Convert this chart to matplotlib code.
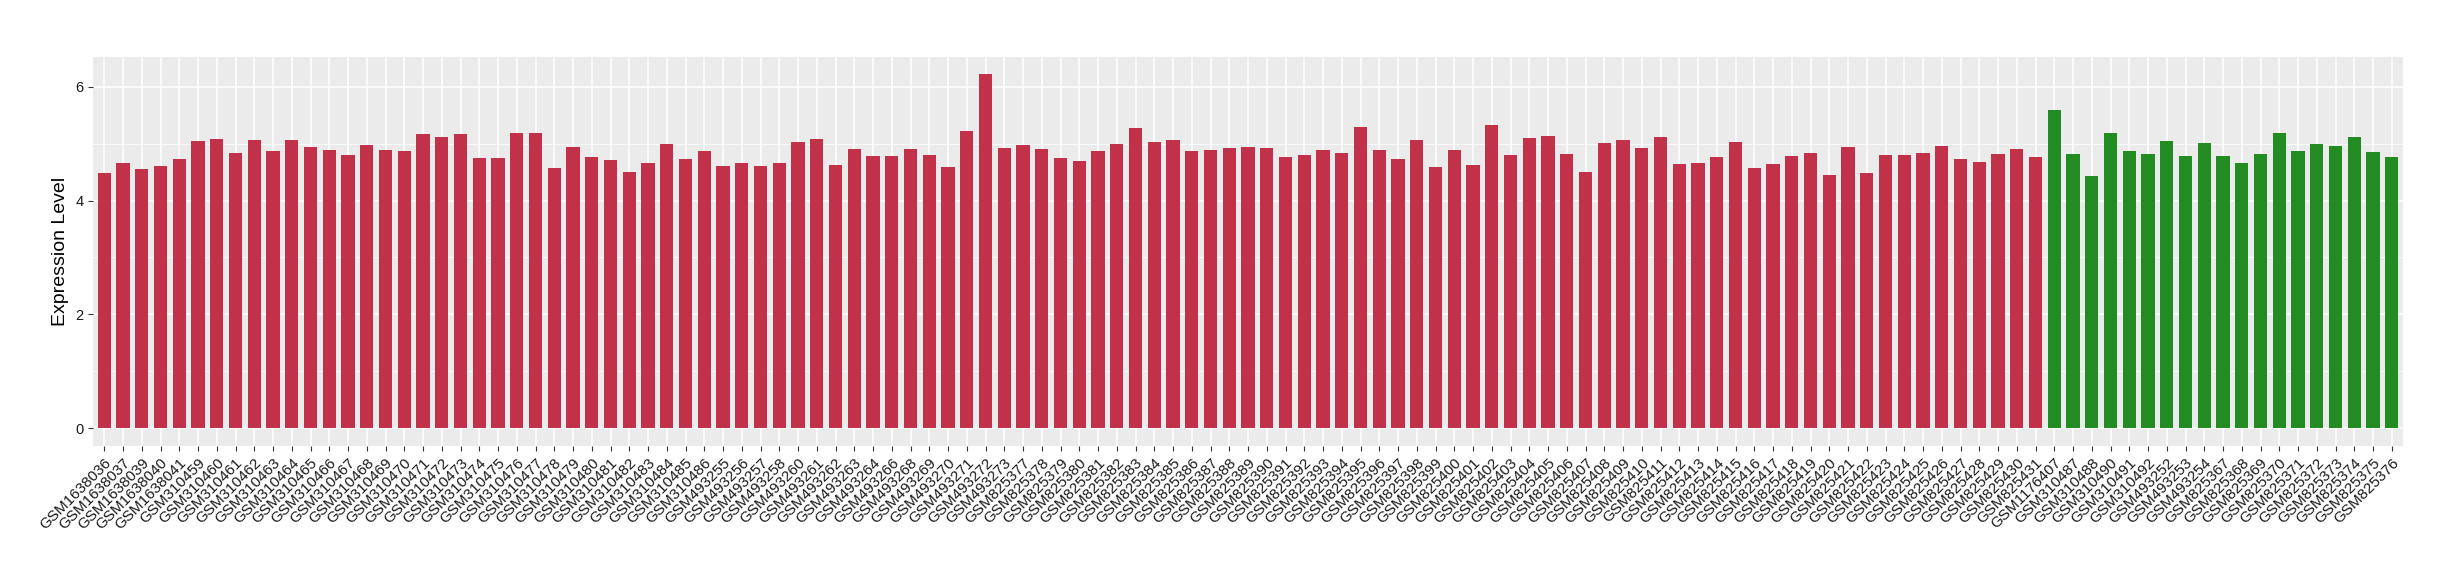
import numpy as np
import matplotlib
matplotlib.use("Agg")
from matplotlib import pyplot as plt
from matplotlib.ticker import MultipleLocator

plt.rcParams['font.family'] = ['Liberation Sans', 'DejaVu Sans']

# sample ids, first group (red)
group_a = (["GSM1638036", "GSM1638037", "GSM1638039", "GSM1638040", "GSM1638041"]
           + ["GSM3104%02d" % i for i in range(59, 87)]
           + ["GSM493255", "GSM493256", "GSM493257", "GSM493258", "GSM493260",
              "GSM493261", "GSM493262", "GSM493263", "GSM493264", "GSM493266",
              "GSM493268", "GSM493269", "GSM493270", "GSM493271", "GSM493272",
              "GSM493273"]
           + ["GSM825%03d" % i for i in range(377, 432)])

# second group (green)
group_b = ["GSM1176407", "GSM310487", "GSM310488", "GSM310490", "GSM310491",
           "GSM310492", "GSM493252", "GSM493253", "GSM493254", "GSM825367",
           "GSM825368", "GSM825369", "GSM825370", "GSM825371", "GSM825372",
           "GSM825373", "GSM825374", "GSM825375", "GSM825376"]

values_a = [4.48, 4.66, 4.55, 4.61, 4.73, 5.05, 5.08, 4.83, 5.06, 4.87,
            5.06, 4.94, 4.89, 4.80, 4.98, 4.89, 4.87, 5.17, 5.12, 5.17,
            4.75, 4.75, 5.19, 5.19, 4.57, 4.94, 4.76, 4.71, 4.50, 4.66,
            4.99, 4.73, 4.87, 4.61, 4.66, 4.61, 4.66, 5.03, 5.08, 4.62,
            4.91, 4.78, 4.78, 4.91, 4.80, 4.59, 5.22, 6.22, 4.92, 4.98,
            4.91, 4.75, 4.69, 4.87, 4.99, 5.27, 5.03, 5.06, 4.87, 4.89,
            4.92, 4.94, 4.92, 4.76, 4.80, 4.89, 4.83, 5.29, 4.89, 4.73,
            5.06, 4.59, 4.89, 4.62, 5.33, 4.80, 5.10, 5.13, 4.82, 4.50,
            5.01, 5.06, 4.92, 5.12, 4.64, 4.66, 4.76, 5.03, 4.57, 4.64,
            4.78, 4.83, 4.45, 4.94, 4.48, 4.80, 4.80, 4.83, 4.96, 4.73,
            4.68, 4.82, 4.91, 4.76]

values_b = [5.59, 4.82, 4.43, 5.19, 4.87, 4.82, 5.05, 4.78, 5.01, 4.78,
            4.66, 4.82, 5.19, 4.87, 4.99, 4.96, 5.12, 4.85, 4.76]

labels = group_a + group_b
values = values_a + values_b
colors = ["#C2314A"] * len(values_a) + ["#228B22"] * len(values_b)

fig = plt.figure(figsize=(24.6, 5.8), dpi=100)
ax = fig.add_axes([93 / 2460, 1 - 445.7 / 580, (2403 - 93) / 2460, (445.7 - 56.7) / 580])

x = np.arange(len(labels))
ax.set_facecolor("#EBEBEB")
ax.set_axisbelow(True)
ax.bar(x, values, width=0.7, color=colors, zorder=2)

ax.set_xlim(-0.6, len(labels) - 0.4)
ax.set_ylim(-0.311, 6.531)
ax.yaxis.set_major_locator(MultipleLocator(2))
ax.yaxis.set_minor_locator(MultipleLocator(1))
ax.grid(which="major", color="white", linewidth=1.1)
ax.grid(which="minor", axis="y", color="white", linewidth=0.55)

ax.set_xticks(x)
ax.set_xticklabels(labels, rotation=45, ha="right", rotation_mode="anchor",
                   fontsize=11, color="#1a1a1a")
ax.tick_params(axis="y", labelsize=10.5, labelcolor="#1a1a1a")
ax.tick_params(which="major", length=3.5, width=0.8, color="#333333")
ax.tick_params(which="minor", length=0)
for s in ax.spines.values():
    s.set_visible(False)

ax.set_ylabel("Expression Level", fontsize=14, labelpad=4)

fig.savefig("out.png", dpi=100)
